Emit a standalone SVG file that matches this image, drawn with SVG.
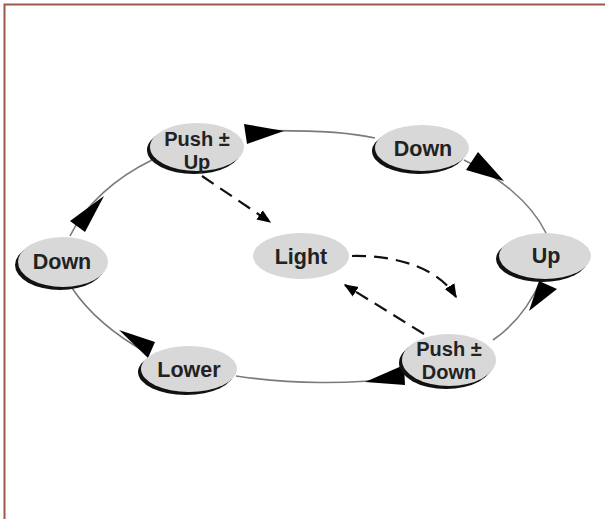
<svg xmlns="http://www.w3.org/2000/svg" width="605" height="519" viewBox="0 0 605 519">
<defs>
<style>
.ring{fill:none;stroke:#7a7a7a;stroke-width:1.6}
.dash{fill:none;stroke:#111;stroke-width:2.2;stroke-dasharray:14 8}
.head{fill:#000}
.sh{fill:#111}
.el{fill:#d8d8d8}
.lt{fill:#d8d8d8}
.t{font-family:"Liberation Sans",Arial,sans-serif;font-weight:bold;font-size:21.5px;fill:#222;text-anchor:middle}
.t2{font-size:20px}
</style>
<marker id="ah2" viewBox="0 0 10 10" refX="9" refY="5" markerWidth="14" markerHeight="14" orient="auto" markerUnits="userSpaceOnUse">
<path d="M0,1 L10,5 L0,9 z" fill="#000"/>
</marker>
</defs>
<rect width="605" height="519" fill="#fff"/>
<path d="M4.5,519 V4.5 H605" fill="none" stroke="#9c5a4f" stroke-width="2"/>
<g id="connectors">
<path class="ring" d="M245,131 C290,130 340,130 375,138"/>
<path class="ring" d="M464,160 C495,175 530,200 546,233"/>
<path class="ring" d="M541,280 C530,305 515,325 493,340"/>
<path class="ring" d="M402,377 C350,385 290,384 236,376"/>
<path class="ring" d="M147,353 C115,335 90,315 72,288"/>
<path class="ring" d="M70,236 C85,205 115,178 152,160"/>
<polygon class="head" points="244,124 247,144 284,131"/>
<polygon class="head" points="478,152 466,170 504,181"/>
<polygon class="head" points="70,221 85,232 104,196"/>
<polygon class="head" points="539,281 557,289 529,311"/>
<polygon class="head" points="404,365 405,385 365,382"/>
<polygon class="head" points="155,342 148,358 119,330"/>
<path class="dash" d="M202,176 L270,222" marker-end="url(#ah2)"/>
<path class="dash" d="M352,256 C400,255 440,270 456,297" marker-end="url(#ah2)"/>
<path class="dash" d="M424,334 L345,285" marker-end="url(#ah2)"/>
</g>
<g id="node-push-up">
<ellipse class="sh" cx="194" cy="150" rx="47" ry="24"/>
<ellipse class="el" cx="197" cy="147" rx="47" ry="24"/>
<text class="t t2" x="197" y="146">Push ±</text>
<text class="t t2" x="197" y="169">Up</text>
</g>
<g id="node-down-top">
<ellipse class="sh" cx="419" cy="151" rx="47" ry="23"/>
<ellipse class="el" cx="422" cy="148" rx="47" ry="23"/>
<text class="t" x="423" y="156">Down</text>
</g>
<g id="node-down-left">
<ellipse class="sh" cx="60" cy="265" rx="45" ry="25"/>
<ellipse class="el" cx="63" cy="262" rx="45" ry="25"/>
<text class="t" x="62" y="269">Down</text>
</g>
<g id="node-up">
<ellipse class="sh" cx="542" cy="259" rx="46" ry="23"/>
<ellipse class="el" cx="545" cy="256" rx="46" ry="23"/>
<text class="t" x="546" y="263">Up</text>
</g>
<g id="node-light">
<ellipse class="lt" cx="301" cy="256" rx="48" ry="23"/>
<text class="t" x="301" y="264">Light</text>
</g>
<g id="node-lower">
<ellipse class="sh" cx="186" cy="372" rx="48" ry="23"/>
<ellipse class="el" cx="189" cy="369" rx="48" ry="23"/>
<text class="t" x="189" y="377">Lower</text>
</g>
<g id="node-push-down">
<ellipse class="sh" cx="446" cy="363" rx="47" ry="26"/>
<ellipse class="el" cx="449" cy="360" rx="47" ry="26"/>
<text class="t t2" x="449" y="356">Push ±</text>
<text class="t t2" x="449" y="379">Down</text>
</g>
</svg>
